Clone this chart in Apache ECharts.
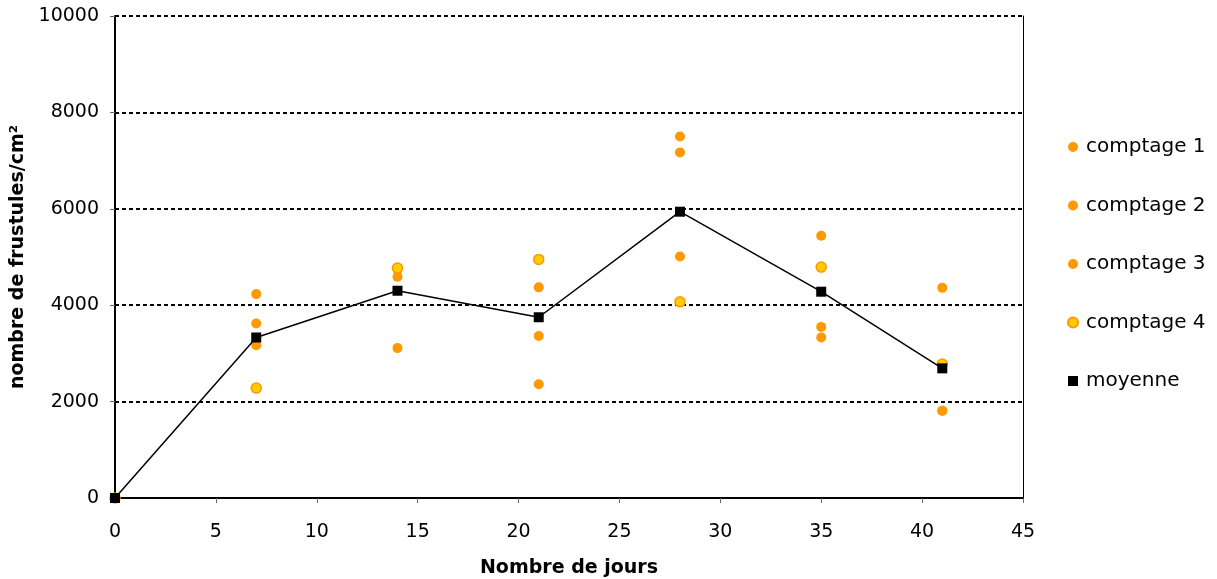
<!DOCTYPE html>
<html>
<head>
<meta charset="utf-8">
<script src="https://cdn.jsdelivr.net/npm/echarts@6/dist/echarts.min.js"></script>
<style>
html,body{margin:0;padding:0;background:#fff;}
#c{width:1217px;height:579px;}
</style>
</head>
<body>
<div id="c"></div>
<script>
const days = [0, 7, 14, 21, 28, 35, 41];
const comptage1 = [0, 4230, 4590, 4370, 7500, 5440, 4360];
const comptage2 = [0, 3620, 4740, 3360, 7170, 3550, 1810];
const comptage3 = [0, 3170, 3110, 2360, 5010, 3330, 1810];
const comptage4 = [0, 2280, 4770, 4950, 4070, 4790, 2780];
const moyenne = [0, 3330, 4300, 3750, 5940, 4280, 2690];
const xTicks = [0, 5, 10, 15, 20, 25, 30, 35, 40, 45];
const yTicks = [0, 2000, 4000, 6000, 8000, 10000];

const pairs = arr => days.map((d, i) => [d, arr[i]]);
const FONT = 'DejaVu Sans';
const orange = '#FF9900';

const chart = echarts.init(document.getElementById('c'), null, {renderer: 'canvas'});
const scatter = (name, arr, fill) => ({
  name, type: 'scatter', data: pairs(arr), symbol: 'circle', symbolSize: 10,
  itemStyle: {color: fill, borderColor: orange, borderWidth: fill === orange ? 0 : 1.5, opacity: 1},
  emphasis: {disabled: true}, z: 3
});
chart.setOption({
  animation: false,
  backgroundColor: '#fff',
  grid: {left: 115, right: 194, top: 16, bottom: 81, containLabel: false, outerBoundsMode: 'none'},
  legend: {
    orient: 'vertical', left: 1067, top: 137, padding: 0, itemWidth: 10, itemHeight: 10, itemGap: 38.5,
    textStyle: {fontFamily: FONT, fontSize: 20, color: '#000', lineHeight: 20, padding: [0, 0, 0, 3]},
    data: ['comptage 1', 'comptage 2', 'comptage 3', 'comptage 4',
      {name: 'moyenne', icon: 'rect', itemStyle: {color: '#000'}}]
  },
  xAxis: {
    type: 'value', min: xTicks[0], max: xTicks[xTicks.length - 1], interval: 5,
    name: 'Nombre de jours', nameLocation: 'middle', nameGap: 61,
    nameTextStyle: {fontFamily: FONT, fontSize: 19, fontWeight: 'bold', color: '#000'},
    axisLine: {show: true, onZero: false, lineStyle: {color: '#000', width: 2}},
    axisTick: {show: true, length: 5, lineStyle: {color: '#666', width: 1}},
    axisLabel: {fontFamily: FONT, fontSize: 19, color: '#000', margin: 25, formatter: v => String(v)},
    splitLine: {show: false}
  },
  yAxis: [{
    type: 'value', min: yTicks[0], max: yTicks[yTicks.length - 1], interval: 2000,
    name: 'nombre de frustules/cm²', nameLocation: 'middle', nameGap: 86,
    nameTextStyle: {fontFamily: FONT, fontSize: 19, fontWeight: 'bold', color: '#000'},
    axisLine: {show: true, lineStyle: {color: '#000', width: 2}},
    axisTick: {show: true, length: 5, lineStyle: {color: '#666', width: 1}},
    axisLabel: {fontFamily: FONT, fontSize: 19, color: '#000', margin: 16, formatter: v => String(v)},
    splitLine: {show: true, lineStyle: {color: '#000', width: 2, type: [4, 3]}}
  }, {
    type: 'value', position: 'right', min: 0, max: 10000, interval: 2000,
    axisLine: {show: true, lineStyle: {color: '#000', width: 1}},
    axisTick: {show: false}, axisLabel: {show: false}, splitLine: {show: false}
  }],
  series: [
    scatter('comptage 1', comptage1, orange),
    scatter('comptage 2', comptage2, orange),
    scatter('comptage 3', comptage3, orange),
    scatter('comptage 4', comptage4, '#FFCC00'),
    {
      name: 'moyenne', type: 'line', data: pairs(moyenne), symbol: 'rect', symbolSize: 10,
      showAllSymbol: true,
      lineStyle: {color: '#000', width: 1.5}, itemStyle: {color: '#000'},
      emphasis: {disabled: true}, z: 4
    }
  ]
});
</script>
</body>
</html>
